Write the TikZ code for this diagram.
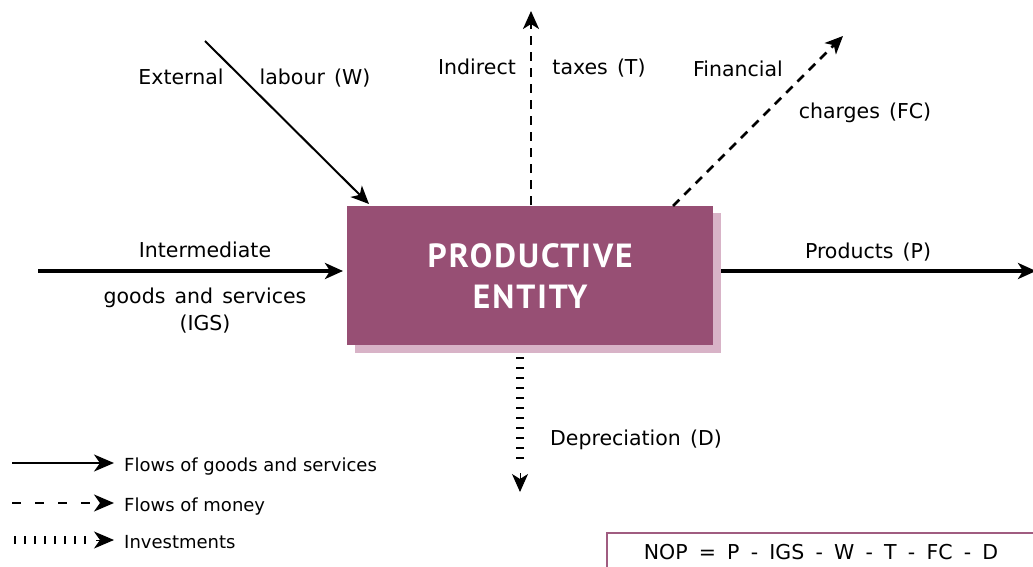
\documentclass[tikz,border=0pt]{standalone}
\usepackage{fontspec}
\setmainfont{DejaVu Sans}
\newfontfamily\titlefont{PT Sans}
\newfontfamily\lblfont[WordSpace=1.4]{DejaVu Sans}
\newcommand\nopgap{\hspace{11.2pt}}
\usetikzlibrary{arrows.meta}
\definecolor{boxfill}{HTML}{974F74}
\definecolor{boxshadow}{HTML}{D8B3C7}
\definecolor{nopborder}{HTML}{A05C80}
\tikzset{
  lbl/.style={font=\lblfont\fontsize{20.5}{24}\selectfont, inner sep=0pt, anchor=base},
  tip/.style={-{Stealth[length=18pt,width=16pt,inset=5pt]}},
  legtip/.style={-{Stealth[length=20pt,width=17pt,inset=6pt]}},
  goods/.style={tip, line width=2pt},
  goodsthick/.style={tip, line width=3.5pt},
  money/.style={tip, line width=2.5pt, dash pattern=on 9pt off 7pt},
  invest/.style={line width=8pt, dash pattern=on 2pt off 8pt},
  legtxt/.style={font=\fontsize{18}{20}\selectfont, inner sep=0pt, anchor=base west},
}
\begin{document}
\begin{tikzpicture}[x=1pt,y=-1pt]
\useasboundingbox (0,0) rectangle (1033,567);
\clip (0,0) rectangle (1033,567);
% shadow and box
\fill[boxshadow] (355,213) rectangle (721,353);
\node[fill=boxfill, minimum width=366pt, minimum height=139pt, inner sep=0pt,
  anchor=north west, text=white, align=center,
  font=\titlefont\fontsize{33.5}{41}\selectfont\bfseries\addfontfeature{LetterSpace=6}] (pe) at (347,206) {PRODUCTIVE\\ENTITY};
% coordinates
\coordinate (wS) at (205,41);
\coordinate (wE) at (369,204);
\coordinate (igsS) at (38,271);
\coordinate (igsE) at (343,271);
\coordinate (tS) at (531,205);
\coordinate (tE) at (531,11);
\coordinate (fcS) at (673,206);
\coordinate (fcE) at (843,36);
\coordinate (pS) at (721,271);
\coordinate (pE) at (1036,271);
\coordinate (dS) at (520,357);
\coordinate (dT) at (520,461);
\coordinate (dM) at (520,473);
\coordinate (dE) at (520,492);
% arrows
\draw[goods] (wS) -- (wE);
\draw[goodsthick] (igsS) -- (igsE);
\draw[money] (tS) -- (tE);
\draw[money] (fcS) -- (fcE);
\draw[goodsthick] (pS) -- (pE);
\draw[invest] (dS) -- (dT);
\draw[tip, line width=1pt] (dM) -- (dE);
% labels
\node[lbl] (l1) at (181,85) {External};
\node[lbl] (l2) at (315,85) {labour (W)};
\node[lbl] (l3) at (205,257) {Intermediate};
\node[lbl] (l4) at (205,303) {goods and services};
\node[lbl] (l5) at (205,330) {(IGS)};
\node[lbl] (l6) at (477,75) {Indirect};
\node[lbl] (l7) at (599,75) {taxes (T)};
\node[lbl] (l8) at (738,77) {Financial};
\node[lbl] (l9) at (865,119) {charges (FC)};
\node[lbl] (l10) at (868,258) {Products (P)};
\node[lbl] (l11) at (636,445) {Depreciation (D)};
% legend
\coordinate (g1S) at (12,463);
\coordinate (g1E) at (114,463);
\coordinate (g2S) at (12,503);
\coordinate (g2E) at (114,503);
\coordinate (g3S) at (14,540);
\coordinate (g3T) at (92,540);
\coordinate (g3M) at (96,540);
\coordinate (g3E) at (114,540);
\draw[legtip, line width=2pt] (g1S) -- (g1E);
\draw[legtip, line width=2pt, dash pattern=on 9pt off 14pt] (g2S) -- (g2E);
\draw[invest] (g3S) -- (g3T);
\draw[legtip, line width=1pt] (g3M) -- (g3E);
\node[legtxt] (t1) at (124,471) {Flows of goods and services};
\node[legtxt] (t2) at (124,511) {Flows of money};
\node[legtxt] (t3) at (124,548) {Investments};
% NOP box
\node[draw=nopborder, line width=2pt, minimum width=436pt, minimum height=44pt,
  anchor=north west, inner sep=0pt] (nopbox) at (606,532) {};
\node[lbl] (nop) at (821,559) {NOP\nopgap=\nopgap P\nopgap-\nopgap IGS\nopgap-\nopgap W\nopgap-\nopgap T\nopgap-\nopgap FC\nopgap-\nopgap D};
\end{tikzpicture}
\end{document}
